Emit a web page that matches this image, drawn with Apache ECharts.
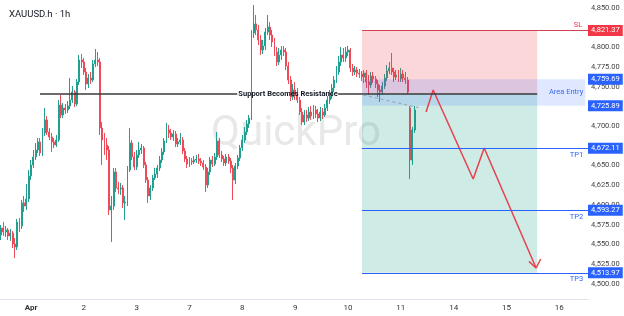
<!DOCTYPE html>
<html><head><meta charset="utf-8">
<script src="https://cdn.jsdelivr.net/npm/echarts@6/dist/echarts.min.js"></script>
<style>html,body{margin:0;padding:0;background:#fff}#c{width:624px;height:316px}</style>
</head><body><div id="c"></div>
<script>
// ---------- data ----------
const chartTitle = 'XAUUSD.h · 1h';
const watermark = 'QuickPro';
const dayLabels = ['', 'Apr', '2', '3', '7', '8', '9', '10', '11', '14', '15', '16'];
const barsPerDay = [13, 23, 23, 23, 23, 23, 23, 23, 23, 23, 23, 13];

const opens = [4561.9,4570.8,4565.8,4568.3,4560.7,4564.5,4550.5,4546.7,4578.5,4573.4,
4602.6,4598.7,4607.6,4636.8,4650.8,4660.9,4669.8,4680.0,4666.0,4691.4,
4707.9,4692.6,4686.3,4680.0,4676.2,4682.5,4726.9,4714.2,4723.1,4720.6,
4725.6,4733.3,4743.4,4728.2,4756.1,4784.0,4781.5,4768.8,4753.6,4761.2,
4758.6,4778.9,4784.0,4781.5,4697.7,4682.5,4676.2,4669.8,4593.7,4598.7,
4641.9,4621.6,4620.3,4621.6,4602.6,4603.8,4644.4,4678.7,4660.9,4648.2,
4663.5,4669.8,4672.3,4650.8,4631.7,4611.4,4621.6,4634.3,4639.3,4647.0,
4657.1,4667.3,4681.2,4695.2,4691.4,4686.3,4690.1,4677.4,4680.0,4682.5,
4668.5,4658.4,4652.0,4655.8,4654.6,4657.1,4658.4,4655.8,4653.3,4648.2,
4625.4,4641.9,4657.1,4652.0,4660.9,4681.2,4663.5,4658.4,4653.3,4660.9,
4655.8,4647.0,4631.7,4649.5,4659.6,4672.3,4682.5,4692.6,4702.8,4710.4,
4818.3,4829.7,4822.1,4809.4,4796.7,4801.8,4819.5,4825.9,4815.7,4806.9,
4794.2,4781.5,4790.4,4796.7,4794.2,4776.4,4758.6,4737.1,4745.9,4739.6,
4733.3,4718.0,4705.3,4714.2,4710.4,4718.0,4713.0,4720.6,4715.5,4710.4,
4718.0,4714.2,4723.1,4733.3,4738.3,4748.5,4758.6,4768.8,4781.5,4790.4,
4786.6,4794.2,4796.7,4773.9,4768.8,4771.3,4767.5,4766.2,4762.4,4767.5,
4756.1,4752.3,4763.7,4759.9,4753.6,4745.9,4743.4,4751.0,4761.2,4770.1,
4773.9,4768.8,4762.4,4765.0,4759.9,4766.2,4761.2,4758.6,4723.1,4657.1,
4695.2];
const closes = [4570.8,4565.8,4568.3,4560.7,4564.5,4550.5,4546.7,4578.5,4573.4,4602.6,
4598.7,4607.6,4636.8,4650.8,4660.9,4669.8,4680.0,4666.0,4691.4,4707.9,
4692.6,4686.3,4680.0,4676.2,4682.5,4726.9,4714.2,4723.1,4720.6,4725.6,
4733.3,4743.4,4728.2,4756.1,4784.0,4781.5,4768.8,4753.6,4761.2,4758.6,
4778.9,4784.0,4781.5,4697.7,4682.5,4676.2,4669.8,4593.7,4598.7,4641.9,
4621.6,4620.3,4621.6,4602.6,4603.8,4644.4,4678.7,4660.9,4648.2,4663.5,
4669.8,4672.3,4650.8,4631.7,4611.4,4621.6,4634.3,4639.3,4647.0,4657.1,
4667.3,4681.2,4695.2,4691.4,4686.3,4690.1,4677.4,4680.0,4682.5,4668.5,
4658.4,4652.0,4655.8,4654.6,4657.1,4658.4,4655.8,4653.3,4648.2,4625.4,
4641.9,4657.1,4652.0,4660.9,4681.2,4663.5,4658.4,4653.3,4660.9,4655.8,
4647.0,4631.7,4649.5,4659.6,4672.3,4682.5,4692.6,4702.8,4710.4,4818.3,
4829.7,4822.1,4809.4,4796.7,4801.8,4819.5,4825.9,4815.7,4806.9,4794.2,
4781.5,4790.4,4796.7,4794.2,4776.4,4758.6,4737.1,4745.9,4739.6,4733.3,
4718.0,4705.3,4714.2,4710.4,4718.0,4713.0,4720.6,4715.5,4710.4,4718.0,
4714.2,4723.1,4733.3,4738.3,4748.5,4758.6,4768.8,4781.5,4790.4,4786.6,
4794.2,4796.7,4773.9,4768.8,4771.3,4767.5,4766.2,4762.4,4767.5,4756.1,
4752.3,4763.7,4759.9,4753.6,4745.9,4743.4,4751.0,4761.2,4770.1,4773.9,
4768.8,4762.4,4765.0,4759.9,4766.2,4761.2,4758.6,4743.4,4657.1,4695.2,
4720.6];
const lows = [4555.6,4560.7,4559.4,4555.6,4554.3,4545.4,4532.8,4542.9,4565.8,4569.6,
4591.1,4593.7,4603.8,4631.7,4647.0,4657.1,4666.0,4662.2,4662.2,4687.6,
4688.8,4682.5,4667.3,4672.3,4673.6,4680.0,4710.4,4710.4,4715.5,4716.8,
4721.8,4729.4,4724.4,4725.6,4752.3,4773.9,4765.0,4745.9,4748.5,4753.6,
4756.1,4775.1,4776.4,4688.8,4650.8,4663.5,4657.1,4587.3,4553.1,4593.7,
4616.5,4614.0,4612.7,4596.2,4581.0,4598.7,4641.9,4657.1,4644.4,4644.4,
4659.6,4664.7,4647.0,4627.9,4602.6,4606.4,4617.8,4631.7,4634.3,4643.1,
4653.3,4663.5,4678.7,4685.0,4682.5,4681.2,4673.6,4673.6,4676.2,4664.7,
4654.6,4647.0,4648.2,4650.8,4652.0,4653.3,4652.0,4649.5,4644.4,4616.5,
4621.6,4638.1,4648.2,4649.5,4657.1,4659.6,4654.6,4649.5,4649.5,4652.0,
4640.6,4606.4,4626.6,4645.7,4655.8,4668.5,4678.7,4688.8,4697.7,4707.9,
4811.9,4815.7,4803.0,4790.4,4791.6,4796.7,4815.7,4809.4,4800.5,4789.1,
4776.4,4777.7,4784.0,4789.1,4771.3,4753.6,4732.0,4733.3,4733.3,4729.4,
4714.2,4701.5,4701.5,4705.3,4706.6,4707.9,4709.1,4710.4,4705.3,4706.6,
4709.1,4711.7,4719.3,4728.2,4734.5,4743.4,4754.8,4765.0,4776.4,4781.5,
4781.5,4789.1,4768.8,4763.7,4765.0,4762.4,4761.2,4757.4,4754.8,4748.5,
4739.6,4748.5,4754.8,4748.5,4737.1,4730.7,4739.6,4747.2,4757.4,4766.2,
4765.0,4756.1,4758.6,4756.1,4756.1,4756.1,4753.6,4740.9,4633.0,4650.8,
4691.4];
const highs = [4574.6,4578.5,4573.4,4570.8,4569.6,4567.0,4558.1,4582.3,4583.5,4606.4,
4611.4,4626.6,4644.4,4657.1,4669.8,4678.7,4685.0,4685.0,4697.7,4723.1,
4713.0,4697.7,4691.4,4685.0,4688.8,4733.3,4739.6,4729.4,4728.2,4732.0,
4761.2,4751.0,4745.9,4759.9,4790.4,4791.6,4786.6,4773.9,4766.2,4768.8,
4784.0,4798.0,4794.2,4786.6,4705.3,4691.4,4685.0,4674.9,4611.4,4647.0,
4647.0,4629.2,4627.9,4625.4,4611.4,4649.5,4697.7,4682.5,4667.3,4669.8,
4680.0,4677.4,4674.9,4654.6,4635.5,4625.4,4638.1,4647.0,4650.8,4662.2,
4672.3,4685.0,4704.1,4701.5,4696.4,4695.2,4693.9,4685.0,4691.4,4686.3,
4672.3,4662.2,4660.9,4659.6,4662.2,4663.5,4664.7,4659.6,4657.1,4652.0,
4647.0,4660.9,4662.2,4666.0,4692.6,4685.0,4668.5,4662.2,4664.7,4664.7,
4659.6,4650.8,4653.3,4663.5,4676.2,4688.8,4699.0,4707.9,4714.2,4822.1,
4853.8,4841.1,4828.4,4815.7,4809.4,4824.6,4841.1,4832.2,4822.1,4811.9,
4800.5,4799.2,4801.8,4801.8,4799.2,4781.5,4763.7,4753.6,4756.1,4748.5,
4737.1,4723.1,4720.6,4720.6,4724.4,4725.6,4726.9,4725.6,4721.8,4724.4,
4723.1,4728.2,4738.3,4745.9,4753.6,4763.7,4776.4,4789.1,4800.5,4799.2,
4800.5,4801.8,4799.2,4778.9,4776.4,4775.1,4772.6,4770.1,4771.3,4771.3,
4765.0,4768.8,4768.8,4763.7,4758.6,4752.3,4756.1,4766.2,4777.7,4781.5,
4792.9,4773.9,4771.3,4771.3,4773.9,4771.3,4768.8,4762.4,4725.6,4699.0,
4725.6];

const yTicks = [4500, 4525, 4550, 4575, 4600, 4625, 4650, 4700, 4750, 4775, 4800, 4850];
const stopLoss = 4821.37;
const entryLevel = 4741;
const entryZone = [4759.69, 4725.89];
const targets = [4672.11, 4593.27, 4513.97];
const targetNames = ['TP1', 'TP2', 'TP3'];
const supportText = 'Support Becomes Resistance';
const zoneText = 'Area Entry';
const slText = 'SL';
// projected path (x in bar units, y in price)
const zigzag = [[185.5, 4718.0], [188.6, 4745.9], [206.0, 4633.0], [210.8, 4672.3], [233.4, 4520.0]];
const arrowHead = [[230.3, 4528.5], [233.4, 4520.0], [235.4, 4531.5]];
const trendDash = [[158.1, 4739.6], [182.9, 4723.1]];

// ---------- build ----------
const cats = [];
const labelIdx = new Set();
dayLabels.forEach((lab, d) => {
  for (let h = 0; h < barsPerDay[d]; h++) {
    if (h === 0 && lab) labelIdx.add(cats.length);
    cats.push(lab + '|' + d + '-' + h);
  }
});
const W = cats.length;
const candles = opens.map((o, i) => [o, closes[i], lows[i], highs[i]]);

const FONT = 'Roboto, "Liberation Sans", Arial, sans-serif';
const RED = '#f23645', BLUE = '#2962ff', UP = '#22a08f', DOWN = '#ee4a57';
const priceFmt = v => v.toLocaleString('en-US', {minimumFractionDigits: 2, maximumFractionDigits: 2});

const boxL = 157.6, boxR = 233.9, bandR = 254.8, supL = 17.4, gapL = 103.3, gapR = 147.2;

function tagLabel(v, bg) {
  return {show: true, position: 'end', distance: 0, formatter: priceFmt(v), backgroundColor: bg,
    color: '#fff', fontSize: 7.5, fontFamily: FONT, padding: [2, 3, 1, 3], lineHeight: 8};
}
function hline(x0, x1, y, style, label) {
  return [{coord: [x0, y], lineStyle: style, label: label || {show: false}}, {coord: [x1, y]}];
}

const lines = [
  hline(boxL, W, stopLoss, {color: '#d0434f', width: 1, type: 'solid'}, tagLabel(stopLoss, RED)),
  hline(W - 0.2, W, entryZone[0], {color: 'rgba(0,0,0,0)', width: 1}, tagLabel(entryZone[0], BLUE)),
  hline(W - 0.2, W, entryZone[1], {color: 'rgba(0,0,0,0)', width: 1}, tagLabel(entryZone[1], BLUE)),
  hline(supL, gapL, entryLevel, {color: '#3a3a3a', width: 1.5, type: 'solid'}),
  hline(gapR, boxR, entryLevel, {color: '#3a3a3a', width: 1.5, type: 'solid'}),
  [{coord: trendDash[0], lineStyle: {color: '#9aa0aa', width: 1, type: [3, 3]}, label: {show: false}}, {coord: trendDash[1]}]
];
targets.forEach(t => lines.push(hline(boxL, W, t, {color: BLUE, width: 1.2, type: 'solid'}, tagLabel(t, BLUE))));

const texts = [
  {name: slText, coord: [253.5, stopLoss + 7], label: {color: RED, align: 'right'}},
  {name: zoneText, coord: [253.9, (entryZone[0] + entryZone[1]) / 2], label: {color: '#3b6cf0', align: 'right', fontSize: 7.5}},
  {name: supportText, coord: [125.4, entryLevel], label: {color: '#131722', align: 'center', fontWeight: 'bold', fontSize: 7.5}}
];
targets.forEach((t, k) => texts.push({name: targetNames[k], coord: [253.9, t - 8.2], label: {color: BLUE, align: 'right'}}));

const chart = echarts.init(document.getElementById('c'));
chart.setOption({
  animation: false,
  backgroundColor: '#fff',
  title: {text: chartTitle, left: 4, top: 5, textStyle: {fontSize: 9.5, fontWeight: 'normal', color: '#131722', fontFamily: FONT}},
  graphic: [{type: 'text', x: 296, y: 134, z: 0,
    style: {text: watermark, fontSize: 42, fontFamily: FONT, fill: '#e8e8e8', textAlign: 'center', textVerticalAlign: 'middle'}}],
  grid: {left: 0, right: 36, top: 0, bottom: 17},
  xAxis: [{
    type: 'category', data: cats, boundaryGap: true,
    axisLine: {lineStyle: {color: '#e0e3eb'}}, axisTick: {show: false}, splitLine: {show: false},
    axisLabel: {
      interval: (i) => labelIdx.has(i), margin: 5, fontSize: 8, color: '#333', fontFamily: FONT,
      formatter: v => { const s = v.split('|')[0]; return s === 'Apr' ? '{b|' + s + '}' : s; },
      rich: {b: {fontWeight: 'bold', fontSize: 8, color: '#333', fontFamily: FONT}}
    }
  }, {
    type: 'value', min: 0, max: W, show: false
  }],
  yAxis: {
    type: 'value', position: 'right', min: 4480.7, max: 4860.15, scale: true,
    axisLine: {show: false}, axisTick: {show: false}, splitLine: {show: false},
    axisLabel: {customValues: yTicks, formatter: priceFmt, fontSize: 7.5, color: '#444', margin: 3, fontFamily: FONT}
  },
  series: [
    {
      type: 'candlestick', xAxisIndex: 0, yAxisIndex: 0, data: candles, barWidth: '62%', z: 2,
      itemStyle: {color: UP, color0: DOWN, borderColor: UP, borderColor0: DOWN, borderWidth: 1}
    },
    {
      type: 'line', xAxisIndex: 1, yAxisIndex: 0, data: zigzag, symbol: 'none', clip: false, z: 4,
      lineStyle: {color: '#e8414f', width: 1.5},
      markArea: {silent: true, z: 3, data: [
        [{coord: [boxL, stopLoss], itemStyle: {color: 'rgba(242,54,69,0.2)'}}, {coord: [boxR, entryLevel]}],
        [{coord: [boxL, entryLevel], itemStyle: {color: 'rgba(8,153,129,0.2)'}}, {coord: [boxR, targets[2]]}],
        [{coord: [boxL, entryZone[0]], itemStyle: {color: 'rgba(41,98,255,0.15)'}}, {coord: [bandR, entryZone[1]]}]
      ]},
      markLine: {silent: true, symbol: ['none', 'none'], z: 5, data: lines},
      markPoint: {silent: true, symbol: 'circle', symbolSize: 0, z: 6,
        label: {show: true, position: 'inside', formatter: '{b}', fontSize: 7.5, fontFamily: FONT, verticalAlign: 'middle'},
        data: texts}
    },
    {
      type: 'line', xAxisIndex: 1, yAxisIndex: 0, data: arrowHead, symbol: 'none', clip: false, z: 4,
      lineStyle: {color: '#e8414f', width: 1.5}
    }
  ]
});
</script>
</body></html>
